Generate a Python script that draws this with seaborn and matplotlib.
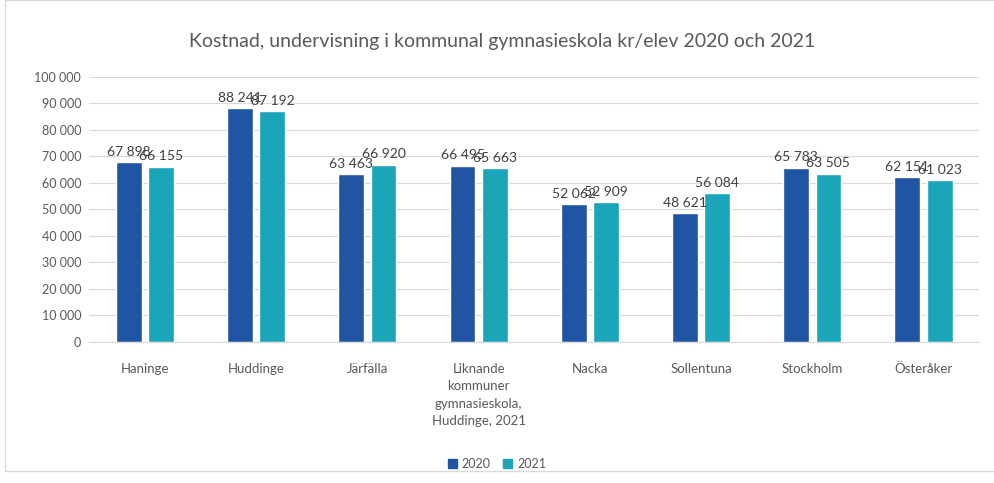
import matplotlib
matplotlib.use("Agg")
import matplotlib.pyplot as plt
import matplotlib.patches as mpatches
import pandas as pd
import seaborn as sns

# data
kommuner = ["Haninge", "Huddinge", "Järfälla",
            "Liknande\nkommuner\ngymnasieskola,\nHuddinge, 2021",
            "Nacka", "Sollentuna", "Stockholm", "Österåker"]
kost_2020 = [67898, 88241, 63463, 66495, 52062, 48621, 65783, 62151]
kost_2021 = [66155, 87192, 66920, 65663, 52909, 56084, 63505, 61023]
years = ["2020", "2021"]
colors = ["#1F55A3", "#1AA5B8"]

df = pd.DataFrame({
    "Kommun": kommuner * 2,
    "År": [years[0]] * len(kommuner) + [years[1]] * len(kommuner),
    "Kostnad": kost_2020 + kost_2021,
})

sns.set_style("white")
plt.rcParams["font.family"] = ["Lato", "DejaVu Sans"]

fig = plt.figure(figsize=(9.94, 4.83), dpi=100)
ax = fig.add_axes([0.09, 0.292, 0.895, 0.549])

sns.barplot(data=df, x="Kommun", y="Kostnad", hue="År", palette=colors,
            width=0.58, gap=0.2, ax=ax, legend=False, saturation=1)

def fmt(v):
    return f"{int(v):,}".replace(",", " ")

for cont in ax.containers:
    ax.bar_label(cont, labels=[fmt(b.get_height()) for b in cont],
                 padding=3, fontsize=10, color="#404040")

ax.set_ylim(0, 100000)
ax.set_yticks(range(0, 100001, 10000))
ax.set_yticklabels([fmt(t) for t in range(0, 100001, 10000)])
ax.grid(axis="y", color="#D9D9D9", lw=0.8)
ax.set_axisbelow(True)
for s in ["top", "right", "left"]:
    ax.spines[s].set_visible(False)
ax.spines["bottom"].set_color("#D9D9D9")
ax.tick_params(axis="y", length=0, labelsize=9, colors="#595959", pad=6)
ax.tick_params(axis="x", length=0, labelsize=9.5, colors="#595959", pad=15)
for lab in ax.get_xticklabels():
    lab.set_linespacing(1.55)
ax.set_xlabel("")
ax.set_ylabel("")
ax.set_xlim(-0.5, len(kommuner) - 0.5)

fig.text(0.505, 0.915, "Kostnad, undervisning i kommunal gymnasieskola kr/elev 2020 och 2021",
         ha="center", va="center", fontsize=14, color="#595959")

handles = [mpatches.Patch(color=c, label=y) for c, y in zip(colors, years)]
fig.legend(handles=handles, loc="center", bbox_to_anchor=(0.5, 0.04), ncol=2,
           frameon=False, fontsize=9, handlelength=0.7, handleheight=0.7,
           columnspacing=1.0, handletextpad=0.4, labelcolor="#595959")

# thin frame of the chart area
fig.patches.append(mpatches.Rectangle((0.005, 0.025), 0.995, 0.975, transform=fig.transFigure,
                                      fill=False, ec="#D9D9D9", lw=1))

fig.savefig("out.png", dpi=100)
